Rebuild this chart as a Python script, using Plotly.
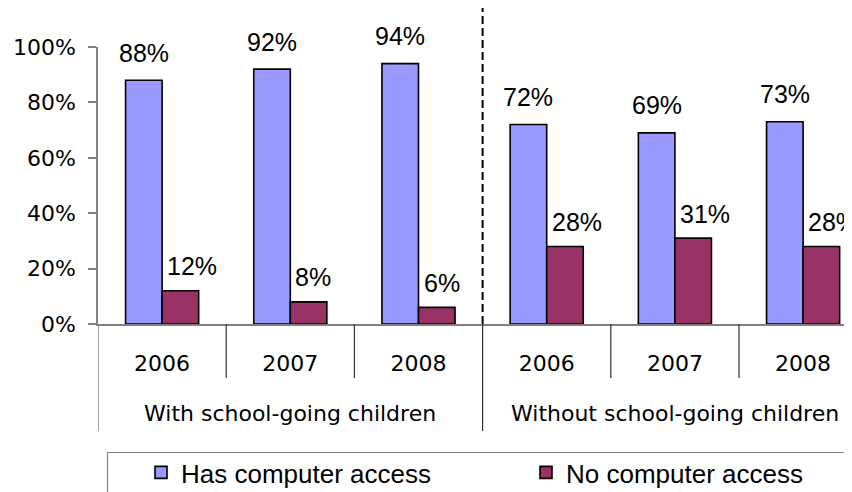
import plotly.graph_objects as go

# ---- data ----
years = ["2006", "2007", "2008", "2006", "2007", "2008"]
groups = ["With school-going children", "Without school-going children"]
years_per_group = 3
has_access = [88, 92, 94, 72, 69, 73]
no_access = [12, 8, 6, 28, 31, 28]
series_names = ["Has computer access", "No computer access"]
y_ticks = [0, 20, 40, 60, 80, 100]
y_tick_labels = [f"{v}%" for v in y_ticks]

# ---- style ----
BLUE = "#9999FF"
MAROON = "#993366"
AXIS_GRAY = "#808080"
PAGE_OFF = 8  # default body margin of the html page
W, H = 852 - PAGE_OFF, 492 - PAGE_OFF
ML, MR, MT, MB = 90, 0, 39, 168
UNIT = 128.2  # px per category
plot_w = W - ML - MR
plot_h = H - MT - MB
x_max = -0.5 + plot_w / UNIT

xs = list(range(len(years)))

fig = go.Figure()
fig.add_trace(go.Bar(x=xs, y=has_access, name=series_names[0], legend="legend",
                     marker=dict(color=BLUE, line=dict(color="black", width=1.6))))
fig.add_trace(go.Bar(x=xs, y=no_access, name=series_names[1], legend="legend2",
                     marker=dict(color=MAROON, line=dict(color="black", width=1.6))))


def py(pix):
    """screen pixel y -> paper y"""
    return (H - MB - (pix - PAGE_OFF)) / plot_h


def px(pix):
    """screen pixel x -> paper x"""
    return ((pix - PAGE_OFF) - ML) / plot_w


shapes = []
# category separators (short ticks) and group separators (long)
for k in range(len(years) + 1):
    xb = k - 0.5
    if xb > x_max:
        continue
    y_end = py(431) if k % years_per_group == 0 else py(378)
    shapes.append(dict(type="line", xref="x", yref="paper", x0=xb, x1=xb,
                       y0=0, y1=y_end,
                       line=dict(color=AXIS_GRAY if k == 0 else "#333333",
                                 width=1.5 if k == 0 else 1.2)))
# dashed divider between the two groups
xd = years_per_group - 0.5
shapes.append(dict(type="line", xref="x", yref="paper", x0=xd, x1=xd,
                   y0=0, y1=py(7), line=dict(color="black", width=2, dash="8px,4px")))
# legend frame
shapes.append(dict(type="rect", xref="paper", yref="paper", x0=px(107.5), x1=px(851.5),
                   y0=py(452.5), y1=py(520), line=dict(color=AXIS_GRAY, width=1.2),
                   fillcolor="rgba(0,0,0,0)"))

annotations = []
LABEL_FONT = dict(family="Liberation Sans, Arial, sans-serif", size=25, color="black")
for i, v in enumerate(has_access):
    annotations.append(dict(x=i, y=v, xref="x", yref="y", text=f"{v}%", showarrow=False,
                            xanchor="center", yanchor="middle", xshift=-0.1425 * UNIT,
                            yshift=27.5, font=LABEL_FONT))
for i, v in enumerate(no_access):
    annotations.append(dict(x=i, y=v, xref="x", yref="y", text=f"{v}%", showarrow=False,
                            xanchor="left", yanchor="middle", xshift=3,
                            yshift=24.5, font=LABEL_FONT))
AXIS_FONT = dict(family="DejaVu Sans, sans-serif", size=22, color="black")
for g, name in enumerate(groups):
    annotations.append(dict(x=g * years_per_group + (years_per_group - 1) / 2, y=py(413.5),
                            xref="x", yref="paper", text=name, showarrow=False,
                            xanchor="center", yanchor="middle", font=AXIS_FONT))

LEGEND_FONT = dict(family="Liberation Sans, Arial, sans-serif", size=26, color="black")
fig.update_layout(
    width=W, height=H,
    margin=dict(l=ML, r=MR, t=MT, b=MB, autoexpand=False),
    paper_bgcolor="white", plot_bgcolor="white",
    barmode="group", bargap=0.43, bargroupgap=0,
    showlegend=True,
    legend=dict(orientation="h", x=px(141), xanchor="left", y=py(449), yanchor="top",
                font=LEGEND_FONT, bgcolor="rgba(0,0,0,0)", borderwidth=0),
    legend2=dict(orientation="h", x=px(526), xanchor="left", y=py(449), yanchor="top",
                 font=LEGEND_FONT, bgcolor="rgba(0,0,0,0)", borderwidth=0),
    xaxis=dict(range=[-0.5, x_max], tickvals=xs, ticktext=years, ticks="",
               showgrid=False, zeroline=False, showline=True, linecolor=AXIS_GRAY,
               linewidth=1.5, tickfont=AXIS_FONT, ticklabelstandoff=19, fixedrange=True),
    yaxis=dict(range=[0, 100], tickvals=y_ticks, ticktext=y_tick_labels, ticks="outside",
               ticklen=8, tickcolor=AXIS_GRAY, tickwidth=1.5, showgrid=False,
               zeroline=False, showline=True, linecolor=AXIS_GRAY, linewidth=1.5,
               tickfont=AXIS_FONT, ticklabelstandoff=8, fixedrange=True),
    shapes=shapes,
    annotations=annotations,
)

fig.write_html("out.html")
